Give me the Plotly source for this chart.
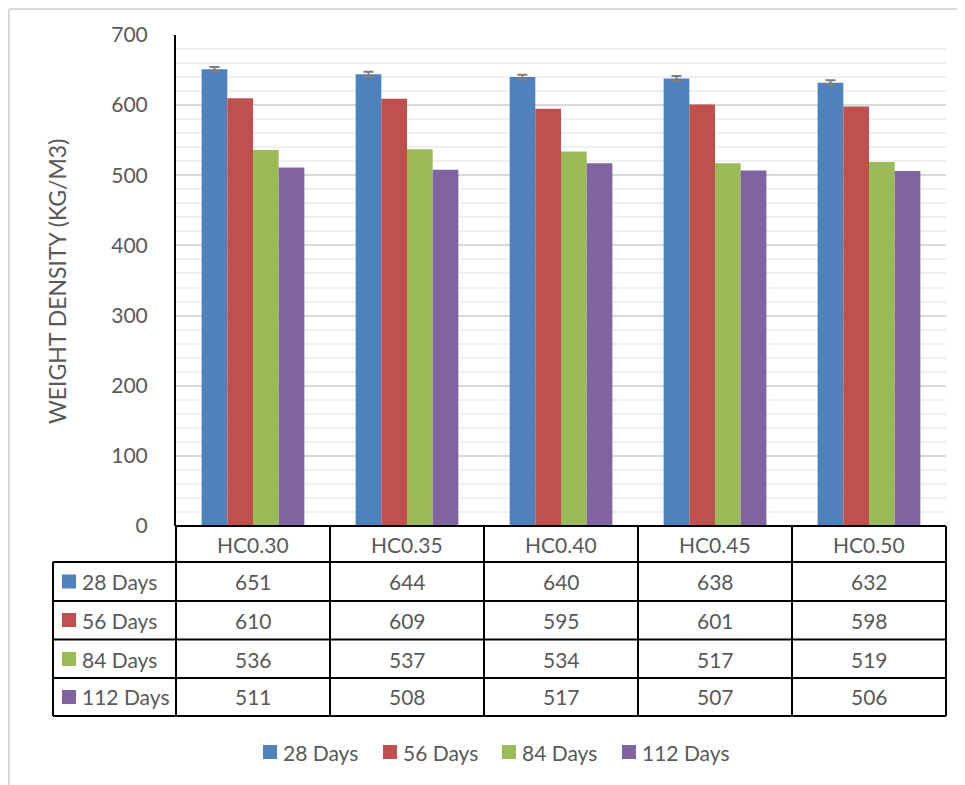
import plotly.graph_objects as go

# data
categories = ["HC0.30", "HC0.35", "HC0.40", "HC0.45", "HC0.50"]
series_names = ["28 Days", "56 Days", "84 Days", "112 Days"]
days_28 = [651, 644, 640, 638, 632]
days_56 = [610, 609, 595, 601, 598]
days_84 = [536, 537, 534, 517, 519]
days_112 = [511, 508, 517, 507, 506]
err_28 = [3.5, 3.5, 3.5, 3.5, 3.5]
y_ticks = [0, 100, 200, 300, 400, 500, 600, 700]

series_values = [days_28, days_56, days_84, days_112]
colors = ["#4F81BD", "#C0504D", "#9BBB59", "#8064A2"]

# page body adds an 8px margin, so the figure is 8px smaller each way
W, H = 957, 777
L, R, T, B = 168, 19, 27, 259
OFF = 8
FONT = "Lato"
GREY = "#595959"
FS = 21


# helpers: screen pixel positions -> paper coords
def px(x):
    return (x - OFF - L) / (W - L - R)


def py(y):
    return (H - B - (y - OFF)) / (H - T - B)


fig = go.Figure()
for i, (name, vals) in enumerate(zip(series_names, series_values)):
    fig.add_trace(go.Bar(
        x=categories, y=vals, name=name,
        marker=dict(color=colors[i], line=dict(width=0)),
        error_y=dict(type="data", array=err_28, color="#7F7F7F", thickness=2, width=5) if i == 0 else None,
        showlegend=False,
    ))

shapes = []
ann = []
line = dict(color="black", width=2)
txt = dict(family=FONT, size=FS, color=GREY)

# outer frame (only top/left visible)
frame = dict(color="#D9D9D9", width=2)
shapes.append(dict(type="line", xref="paper", yref="paper", x0=px(9), x1=px(965), y0=py(9), y1=py(9), line=frame))
shapes.append(dict(type="line", xref="paper", yref="paper", x0=px(9), x1=px(9), y0=py(9), y1=py(785), line=frame))

# data table
row_lines = [562, 601, 639.5, 678, 716]
row_mid = [581.5, 620, 659, 697]
head_mid = 544
shapes.append(dict(type="line", xref="paper", yref="paper", x0=0, x1=1, y0=0, y1=0, line=line))
for yl in row_lines:
    shapes.append(dict(type="line", xref="paper", yref="paper", x0=px(53), x1=1, y0=py(yl), y1=py(yl), line=line))
for k in range(len(categories) + 1):
    xk = k / len(categories)
    shapes.append(dict(type="line", xref="paper", yref="paper", x0=xk, x1=xk, y0=0, y1=py(716), line=line))
shapes.append(dict(type="line", xref="paper", yref="paper", x0=px(53), x1=px(53), y0=py(562), y1=py(716), line=line))

for c in categories:
    ann.append(dict(x=c, xref="x", y=py(head_mid), yref="paper", text=c, showarrow=False,
                    xanchor="center", yanchor="middle", font=txt))

for r, (name, vals) in enumerate(zip(series_names, series_values)):
    ym = row_mid[r]
    shapes.append(dict(type="rect", xref="paper", yref="paper", x0=px(62), x1=px(76),
                       y0=py(ym - 7), y1=py(ym + 7), fillcolor=colors[r], line=dict(width=0)))
    ann.append(dict(x=px(80), xref="paper", y=py(ym), yref="paper", text=name, showarrow=False,
                    xanchor="left", yanchor="middle", font=txt))
    for c, v in zip(categories, vals):
        ann.append(dict(x=c, xref="x", y=py(ym), yref="paper", text=str(v), showarrow=False,
                        xanchor="center", yanchor="middle", font=txt))

# bottom legend
leg_x = [263, 383, 502, 622]
leg_y = 752
for name, col, lx in zip(series_names, colors, leg_x):
    shapes.append(dict(type="rect", xref="paper", yref="paper", x0=px(lx), x1=px(lx + 14),
                       y0=py(leg_y - 7), y1=py(leg_y + 7), fillcolor=col, line=dict(width=0)))
    ann.append(dict(x=px(lx + 18), xref="paper", y=py(leg_y), yref="paper", text=name, showarrow=False,
                    xanchor="left", yanchor="middle", font=txt))

# y axis title
ann.append(dict(x=px(57), xref="paper", y=py(282), yref="paper", text="WEIGHT DENSITY (KG/M3)",
                textangle=-90, showarrow=False, xanchor="center", yanchor="middle",
                font=dict(family=FONT, size=23, color=GREY)))

fig.update_layout(
    width=W, height=H,
    margin=dict(l=L, r=R, t=T, b=B),
    barmode="group", bargap=0.333, bargroupgap=0,
    plot_bgcolor="white", paper_bgcolor="white",
    shapes=shapes, annotations=ann,
    xaxis=dict(range=[-0.5, 4.5], showticklabels=False, showgrid=False, zeroline=False, ticks=""),
    yaxis=dict(range=[0, 700], tickvals=y_ticks, showline=True, linecolor="black", linewidth=2,
               gridcolor="#D9D9D9", gridwidth=1.5, zeroline=False, ticks="", ticklabelstandoff=22,
               tickfont=txt,
               minor=dict(dtick=20, showgrid=True, gridcolor="#F0F0F0", gridwidth=1.5)),
    showlegend=False,
)

fig.write_html("out.html")
